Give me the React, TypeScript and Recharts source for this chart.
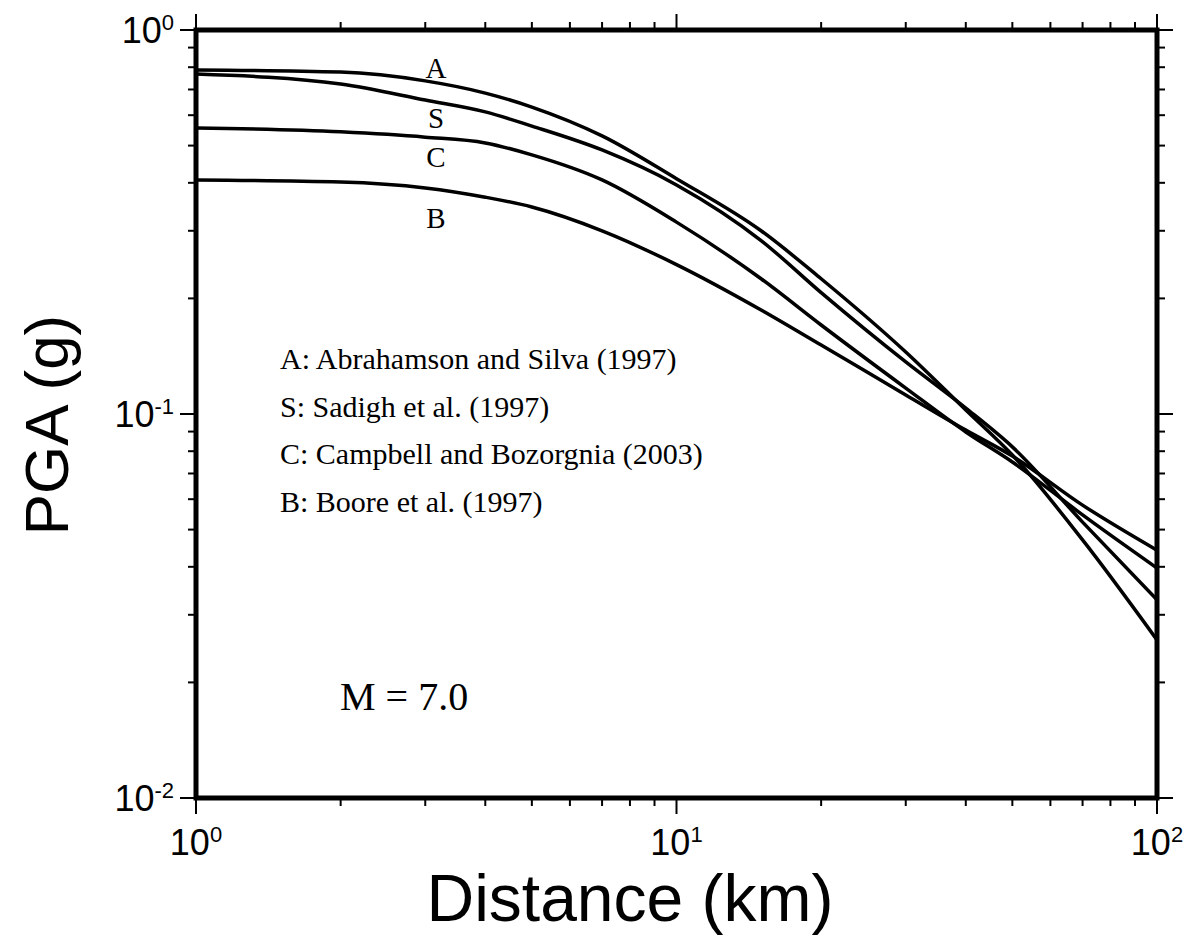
import { LineChart, Line, XAxis, YAxis, Customized } from 'recharts'

// distance (km) at which each curve was read
const distances = [1, 2, 3, 4, 5, 7, 10, 15, 20, 30, 40, 50, 70, 100]

// PGA (g) per relation
const abrahamsonSilva = [0.787, 0.777, 0.737, 0.685, 0.63, 0.53, 0.41, 0.3, 0.225, 0.145, 0.1024, 0.0782, 0.047, 0.0258]
const sadigh = [0.768, 0.723, 0.657, 0.612, 0.562, 0.487, 0.395, 0.283, 0.207, 0.1366, 0.1036, 0.0821, 0.0523, 0.0328]
const campbellBozorgnia = [0.556, 0.543, 0.526, 0.508, 0.473, 0.407, 0.316, 0.225, 0.1705, 0.1168, 0.0898, 0.075, 0.0546, 0.0397]
const boore = [0.407, 0.402, 0.388, 0.367, 0.346, 0.3, 0.245, 0.1866, 0.1512, 0.1121, 0.0908, 0.0777, 0.0579, 0.0442]

const xTicks = [1, 2, 3, 4, 5, 6, 7, 8, 9, 10, 20, 30, 40, 50, 60, 70, 80, 90, 100]
const yTicks = [0.01, 0.02, 0.03, 0.04, 0.05, 0.06, 0.07, 0.08, 0.09, 0.1, 0.2, 0.3, 0.4, 0.5, 0.6, 0.7, 0.8, 0.9, 1]

const curveLabels = ['A', 'S', 'C', 'B']
const legendLines = [
  'A: Abrahamson and Silva (1997)',
  'S: Sadigh et al. (1997)',
  'C: Campbell and Bozorgnia (2003)',
  'B: Boore et al. (1997)',
]
const magnitudeNote = 'M = 7.0'

const data = distances.map((d, i) => ({
  dist: d,
  A: abrahamsonSilva[i],
  S: sadigh[i],
  C: campbellBozorgnia[i],
  B: boore[i],
}))

// plot box inside the svg
const W = 1183
const H = 931
const LEFT = 188
const RIGHT = 34
const TOP = 22
const BOTTOM = 141
const PL = LEFT
const PR = W - RIGHT
const PT = TOP
const PB = H - BOTTOM

const SANS = '"Liberation Sans", Arial, sans-serif'
const SERIF = '"Liberation Serif", "Times New Roman", serif'

const isMajor = (v: number) => Math.abs(Math.log10(v) - Math.round(Math.log10(v))) < 1e-6
const expOf = (v: number) => Math.round(Math.log10(v))

function BottomTick(props: any) {
  const { x, payload } = props
  const v = payload.value
  const major = isMajor(v)
  return (
    <g>
      <line x1={x} x2={x} y1={PB} y2={PB + (major ? 16 : 8)} stroke="#000" strokeWidth={2} />
      {major && (
        <text x={x} y={PB + 57} textAnchor="middle" fontFamily={SANS} fontSize={36} fill="#000">
          10<tspan fontSize={22} dy={-13}>{expOf(v)}</tspan>
        </text>
      )}
    </g>
  )
}

function TopTick(props: any) {
  const { x, payload } = props
  const major = isMajor(payload.value)
  return <line x1={x} x2={x} y1={PT} y2={PT - (major ? 16 : 8)} stroke="#000" strokeWidth={2} />
}

function LeftTick(props: any) {
  const { y, payload } = props
  const v = payload.value
  const major = isMajor(v)
  return (
    <g>
      <line x1={PL} x2={PL - (major ? 16 : 8)} y1={y} y2={y} stroke="#000" strokeWidth={2} />
      {major && (
        <text x={PL - 22} y={y + 13} textAnchor="end" fontFamily={SANS} fontSize={36} fill="#000">
          10<tspan fontSize={22} dy={-13}>{expOf(v)}</tspan>
        </text>
      )}
    </g>
  )
}

function RightTick(props: any) {
  const { y, payload } = props
  const major = isMajor(payload.value)
  return <line x1={PR} x2={PR + (major ? 16 : 8)} y1={y} y2={y} stroke="#000" strokeWidth={2} />
}

function Annotations() {
  const labelY = [70, 120, 159, 220]
  return (
    <g fontFamily={SERIF} fill="#000">
      {curveLabels.map((t, i) => (
        <text key={t} x={428} y={labelY[i]} textAnchor="middle" fontSize={29}>{t}</text>
      ))}
      {legendLines.map((t, i) => (
        <text key={t} x={272} y={361 + i * 47.5} fontSize={30}>{t}</text>
      ))}
      <text x={332} y={702} fontSize={40}>{magnitudeNote}</text>
      <rect x={PL} y={PT} width={PR - PL} height={PB - PT} fill="none" stroke="#000" strokeWidth={5} />
      <text x={622} y={913} textAnchor="middle" fontFamily={SANS} fontSize={66}>Distance (km)</text>
      <text transform={`translate(60, 417) rotate(-90)`} textAnchor="middle" fontFamily={SANS} fontSize={62}>PGA (g)</text>
    </g>
  )
}

export default function App() {
  const series = ['A', 'S', 'C', 'B']
  return (
    <div style={{ width: W, height: H, background: '#fff' }}>
      <LineChart width={W} height={H} data={data} margin={{ top: 0, right: 0, bottom: 0, left: 0 }}>
        <XAxis
          dataKey="dist"
          type="number"
          scale="log"
          domain={[1, 100]}
          ticks={xTicks}
          interval={0}
          height={BOTTOM}
          axisLine={false}
          tickLine={false}
          tick={<BottomTick />}
          allowDataOverflow
        />
        <XAxis
          xAxisId="top"
          orientation="top"
          dataKey="dist"
          type="number"
          scale="log"
          domain={[1, 100]}
          ticks={xTicks}
          interval={0}
          height={TOP}
          axisLine={false}
          tickLine={false}
          tick={<TopTick />}
          allowDataOverflow
        />
        <YAxis
          type="number"
          scale="log"
          domain={[0.01, 1]}
          ticks={yTicks}
          interval={0}
          width={LEFT}
          axisLine={false}
          tickLine={false}
          tick={<LeftTick />}
          allowDataOverflow
        />
        <YAxis
          yAxisId="right"
          orientation="right"
          type="number"
          scale="log"
          domain={[0.01, 1]}
          ticks={yTicks}
          interval={0}
          width={RIGHT}
          axisLine={false}
          tickLine={false}
          tick={<RightTick />}
          allowDataOverflow
        />
        {series.map((k) => (
          <Line
            key={k}
            dataKey={k}
            type="monotone"
            stroke="#000"
            strokeWidth={3.5}
            dot={false}
            isAnimationActive={false}
          />
        ))}
        <Customized component={Annotations} />
      </LineChart>
    </div>
  )
}
